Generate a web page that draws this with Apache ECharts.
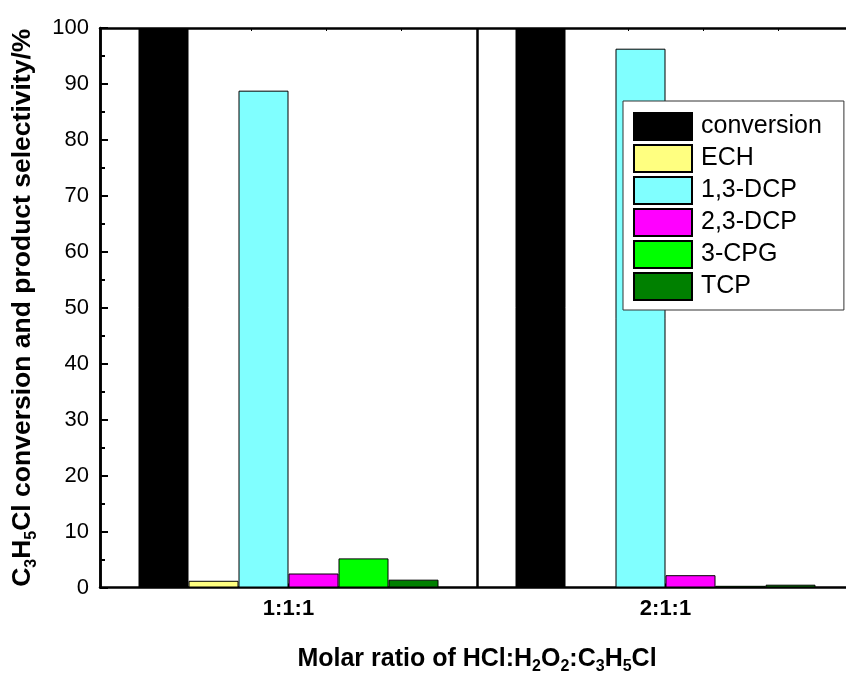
<!DOCTYPE html>
<html>
<head>
<meta charset="utf-8">
<script src="https://cdn.jsdelivr.net/npm/echarts@6/dist/echarts.min.js"></script>
<style>
html,body{margin:0;padding:0;background:#fff;}
#chart{width:846px;height:675px;}
</style>
</head>
<body>
<div id="chart"></div>
<script>
var categories = ['1:1:1', '2:1:1'];
var seriesNames = ['conversion', 'ECH', '1,3-DCP', '2,3-DCP', '3-CPG', 'TCP'];
var conversion = [100, 100];
var ech = [1.2, 0];
var dcp13 = [88.8, 96.3];
var dcp23 = [2.5, 2.2];
var cpg3 = [5.2, 0.3];
var tcp = [1.4, 0.5];
var yTicks = [0, 10, 20, 30, 40, 50, 60, 70, 80, 90, 100];
var colors = ['#000000', '#FFFF80', '#80FFFF', '#FF00FF', '#00FF00', '#008000'];

var values = [conversion, ech, dcp13, dcp23, cpg3, tcp];
var FONT = 'Liberation Sans, Arial, sans-serif';

var chart = echarts.init(document.getElementById('chart'), null, {renderer: 'canvas'});

var series = seriesNames.map(function (name, i) {
  return {
    name: name,
    type: 'bar',
    xAxisIndex: 0,
    yAxisIndex: 0,
    barWidth: 50,
    barGap: '0%',
    data: values[i],
    itemStyle: {color: colors[i], borderColor: '#000', borderWidth: 1}
  };
});

function richName(size, lh) {
  return {
    b: {fontSize: size, fontWeight: 'bold', color: '#000', fontFamily: FONT, lineHeight: lh},
    s: {fontSize: 16, fontWeight: 'bold', color: '#000', fontFamily: FONT, lineHeight: 16, verticalAlign: 'bottom'}
  };
}

var option = {
  animation: false,
  backgroundColor: '#ffffff',
  textStyle: {fontFamily: FONT},
  grid: {left: 100, width: 754, top: 28, height: 559.5, containLabel: false, outerBoundsMode: 'none'},
  legend: {
    orient: 'vertical',
    left: 623,
    top: 101,
    padding: [11, 22, 9, 10],
    itemWidth: 58,
    itemHeight: 27,
    itemGap: 3,
    icon: 'rect',
    backgroundColor: '#fff',
    borderColor: '#333',
    borderWidth: 1,
    borderRadius: 0,
    textStyle: {fontSize: 25, lineHeight: 27, color: '#000', fontFamily: FONT, padding: [0, 0, 0, 4]},
    data: seriesNames
  },
  xAxis: [
    {
      type: 'category',
      data: categories,
      position: 'bottom',
      boundaryGap: true,
      axisLine: {show: true, onZero: false, lineStyle: {color: '#000', width: 2.5}},
      axisTick: {show: true, inside: true, alignWithLabel: true, length: 4, lineStyle: {color: '#000', width: 2}},
      axisLabel: {fontSize: 22, fontWeight: 'bold', color: '#000', margin: 10, fontFamily: FONT},
      splitLine: {show: true, lineStyle: {color: '#000', width: 2.5}},
      name: '{b|Molar ratio of HCl:H}{s|2}{b|O}{s|2}{b|:C}{s|3}{b|H}{s|5}{b|Cl}',
      nameLocation: 'middle',
      nameGap: 57,
      nameTextStyle: {rich: richName(25, 30)}
    },
    {
      type: 'value',
      position: 'top',
      min: 0,
      max: 10,
      interval: 1,
      axisLine: {show: true, onZero: false, lineStyle: {color: '#000', width: 2.5}},
      axisTick: {show: true, inside: true, length: 3, lineStyle: {color: '#000', width: 1}},
      axisLabel: {show: false},
      splitLine: {show: false}
    }
  ],
  yAxis: {
    type: 'value',
    min: yTicks[0],
    max: yTicks[yTicks.length - 1],
    interval: yTicks[1] - yTicks[0],
    axisLine: {show: true, onZero: false, lineStyle: {color: '#000', width: 2.5}},
    axisTick: {show: true, inside: true, length: 8, lineStyle: {color: '#000', width: 2}},
    minorTick: {show: true, splitNumber: 2, length: 5, lineStyle: {color: '#000', width: 2}},
    axisLabel: {fontSize: 22, color: '#000', margin: 11, fontFamily: FONT},
    splitLine: {show: false},
    name: '{b|C}{s|3}{b|H}{s|5}{b|Cl conversion and product selectivity/%}',
    nameLocation: 'middle',
    nameGap: 60,
    nameTextStyle: {rich: richName(26.5, 34)}
  },
  series: series
};

chart.setOption(option);
</script>
</body>
</html>
